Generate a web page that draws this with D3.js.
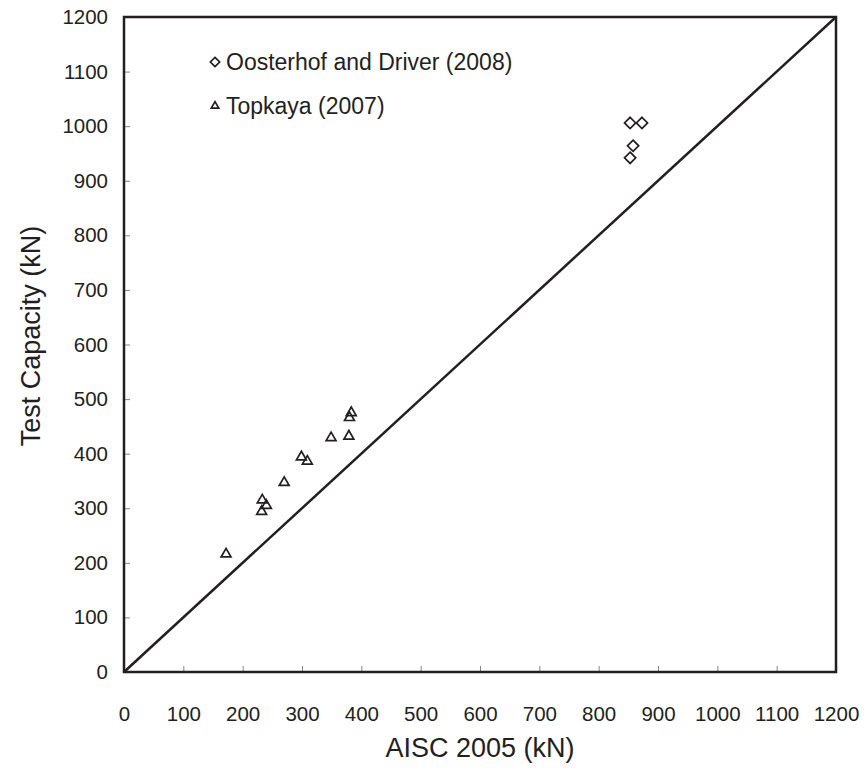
<!DOCTYPE html>
<html>
<head>
<meta charset="utf-8">
<script src="https://cdn.jsdelivr.net/npm/d3@7"></script>
<style>
  body { margin: 0; background: #fff; }
  text { font-family: "Liberation Sans", Arial, sans-serif; fill: #231f20; }
</style>
</head>
<body>
<svg id="chart" width="865" height="775"></svg>
<script>
// values (kN)
const oosterhofX = [853, 873, 858, 853];
const oosterhofY = [1006, 1006, 964, 942];
const topkayaX = [172, 232, 233, 240, 270, 299, 309, 349, 379, 380, 383];
const topkayaY = [216, 294, 315, 305, 347, 394, 386, 429, 432, 466, 475];
const ticks = [0, 100, 200, 300, 400, 500, 600, 700, 800, 900, 1000, 1100, 1200];
const legendLabels = ["Oosterhof and Driver (2008)", "Topkaya (2007)"];

const svg = d3.select("#chart");
const ink = "#231f20";

const plotL = 124, plotR = 836, plotT = 17, plotB = 672;
const x = d3.scaleLinear().domain([0, 1200]).range([plotL, plotR]);
const y = d3.scaleLinear().domain([0, 1200]).range([plotB, plotT]);

// axes with inside ticks
const xAxis = d3.axisBottom(x).tickValues(ticks).tickFormat(d3.format("d")).tickSize(-6).tickPadding(34);
const yAxis = d3.axisLeft(y).tickValues(ticks).tickFormat(d3.format("d")).tickSize(-6).tickPadding(16);

svg.append("g").attr("transform", `translate(0,${plotB})`).call(xAxis)
  .call(g => g.select(".domain").remove())
  .call(g => g.selectAll(".tick line").attr("stroke", "#888").attr("stroke-width", 1))
  .call(g => g.selectAll(".tick text").attr("font-size", "20.5px").attr("fill", ink));

svg.append("g").attr("transform", `translate(${plotL},0)`).call(yAxis)
  .call(g => g.select(".domain").remove())
  .call(g => g.selectAll(".tick line").attr("stroke", "#888").attr("stroke-width", 1))
  .call(g => g.selectAll(".tick text").attr("font-size", "20.5px").attr("fill", ink));

// frame
svg.append("rect")
  .attr("x", plotL).attr("y", plotT)
  .attr("width", plotR - plotL).attr("height", plotB - plotT)
  .attr("fill", "none").attr("stroke", ink).attr("stroke-width", 2.5);

// 1:1 line
svg.append("line")
  .attr("x1", x(0)).attr("y1", y(0)).attr("x2", x(1200)).attr("y2", y(1200))
  .attr("stroke", ink).attr("stroke-width", 2.5);

const diamond = d3.symbol().type(d3.symbolDiamond2).size(80);
const triangle = d3.symbol().type(d3.symbolTriangle2).size(70);

svg.append("g").selectAll("path")
  .data(oosterhofX.map((v, i) => [v, oosterhofY[i]]))
  .join("path")
  .attr("transform", d => `translate(${x(d[0])},${y(d[1])})`)
  .attr("d", diamond)
  .attr("fill", "none").attr("stroke", ink).attr("stroke-width", 1.7);

svg.append("g").selectAll("path")
  .data(topkayaX.map((v, i) => [v, topkayaY[i]]))
  .join("path")
  .attr("transform", d => `translate(${x(d[0])},${y(d[1])})`)
  .attr("d", triangle)
  .attr("fill", "none").attr("stroke", ink).attr("stroke-width", 1.7);

// legend
const legend = svg.append("g");
const legendSyms = [d3.symbol().type(d3.symbolDiamond2).size(55), d3.symbol().type(d3.symbolTriangle2).size(40)];
legendLabels.forEach((lab, i) => {
  const ly = 62 + i * 44;
  legend.append("path")
    .attr("transform", `translate(215,${ly})`)
    .attr("d", legendSyms[i])
    .attr("fill", "none").attr("stroke", ink).attr("stroke-width", 1.7);
  legend.append("text")
    .attr("x", 226).attr("y", ly).attr("dy", "0.36em")
    .attr("font-size", "23px")
    .text(lab);
});

// axis titles
svg.append("text")
  .attr("x", (plotL + plotR) / 2).attr("y", 747)
  .attr("dy", "0.36em")
  .attr("text-anchor", "middle").attr("font-size", "27px")
  .text("AISC 2005 (kN)");

svg.append("text")
  .attr("transform", "translate(30,336) rotate(-90)")
  .attr("dy", "0.36em")
  .attr("text-anchor", "middle").attr("font-size", "27px")
  .text("Test Capacity (kN)");
</script>
</body>
</html>
